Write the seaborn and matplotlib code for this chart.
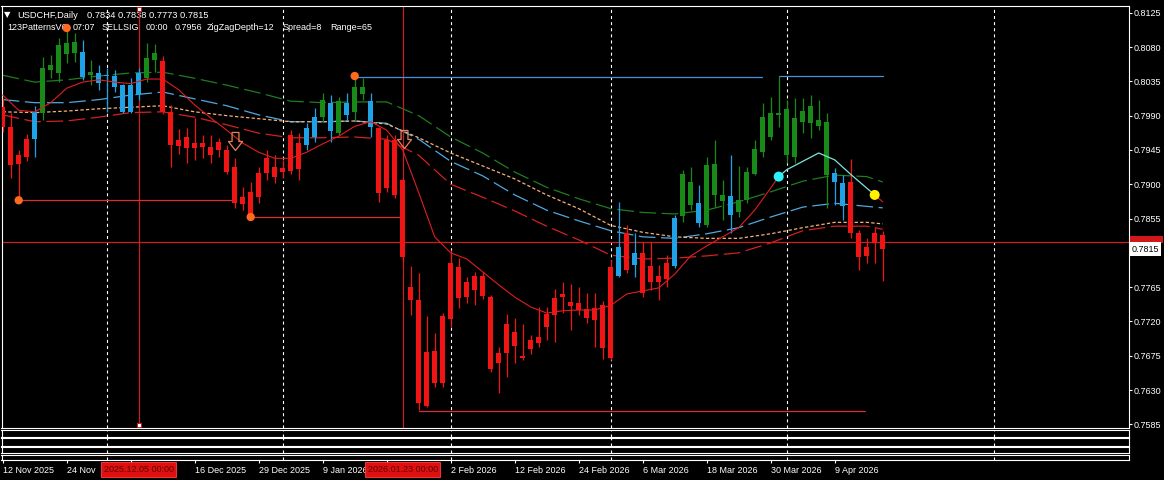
import matplotlib
matplotlib.use("Agg")
import matplotlib.pyplot as plt
import matplotlib.transforms as mtransforms
from matplotlib.patches import Rectangle
import seaborn as sns
import numpy as np
from matplotlib.path import Path

sns.set_theme(style="dark", rc={"axes.facecolor": "black", "figure.facecolor": "black"})
plt.rcParams['font.family'] = ['Liberation Sans', 'DejaVu Sans']
plt.rcParams['lines.scale_dashes'] = False

# ---------------- data ----------------
opens = [0.8001, 0.7975, 0.7938, 0.7959, 0.7959, 0.7994, 0.8050, 0.8046, 0.8071, 0.8072,
         0.8074, 0.8043, 0.8046, 0.8042, 0.8042, 0.8030, 0.7995, 0.8017, 0.8039, 0.8063,
         0.8062, 0.7995, 0.7958, 0.7962, 0.7954, 0.7954, 0.7949, 0.7955, 0.7945, 0.7923,
         0.7883, 0.7890, 0.7915, 0.7934, 0.7923, 0.7921, 0.7965, 0.7954, 0.7951, 0.7962,
         0.7988, 0.8007, 0.7967, 0.8007, 0.7995, 0.8018, 0.8009, 0.7974, 0.7958, 0.7958,
         0.7906, 0.7765, 0.7748, 0.7680, 0.7681, 0.7727, 0.7797, 0.7791, 0.7772, 0.7780,
         0.7780, 0.7752, 0.7679, 0.7717, 0.7706, 0.7675, 0.7696, 0.7700, 0.7730, 0.7751,
         0.7756, 0.7746, 0.7744, 0.7736, 0.7738, 0.7742, 0.7672, 0.7780, 0.7836, 0.7794,
         0.7810, 0.7793, 0.7780, 0.7797, 0.7793, 0.7858, 0.7873, 0.7875, 0.7846, 0.7886,
         0.7878, 0.7860, 0.7863, 0.7879, 0.7913, 0.7942, 0.7962, 0.7991, 0.7999, 0.7936,
         0.7982, 0.7980, 0.7976, 0.7982, 0.7903, 0.7902, 0.7903, 0.7836, 0.7818, 0.7836,
         0.7834]
highs = [0.8013, 0.7994, 0.7945, 0.7966, 0.8003, 0.8067, 0.8070, 0.8092, 0.8105, 0.8098,
         0.8089, 0.8063, 0.8056, 0.8053, 0.8050, 0.8032, 0.8039, 0.8053, 0.8085, 0.8084,
         0.8068, 0.8004, 0.7972, 0.7974, 0.7987, 0.7965, 0.7965, 0.7961, 0.7951, 0.7934,
         0.7896, 0.7903, 0.7923, 0.7945, 0.7938, 0.7932, 0.7971, 0.7967, 0.7980, 0.8000,
         0.8020, 0.8017, 0.8014, 0.8020, 0.8042, 0.8039, 0.8020, 0.7975, 0.7965, 0.7965,
         0.7908, 0.7793, 0.7784, 0.7727, 0.7705, 0.7731, 0.7814, 0.7803, 0.7778, 0.7785,
         0.7785, 0.7755, 0.7687, 0.7730, 0.7725, 0.7717, 0.7702, 0.7739, 0.7739, 0.7763,
         0.7772, 0.7769, 0.7765, 0.7757, 0.7757, 0.7747, 0.7801, 0.7877, 0.7846, 0.7836,
         0.7824, 0.7824, 0.7794, 0.7807, 0.7860, 0.7919, 0.7923, 0.7899, 0.7936, 0.7958,
         0.7906, 0.7938, 0.7924, 0.7923, 0.7958, 0.8007, 0.8014, 0.8042, 0.8011, 0.8013,
         0.8013, 0.8017, 0.8011, 0.7994, 0.7921, 0.7912, 0.7933, 0.7840, 0.7829, 0.7844,
         0.7838]
lows = [0.7969, 0.7908, 0.7879, 0.7930, 0.7936, 0.7984, 0.8039, 0.8034, 0.8059, 0.8060,
        0.8037, 0.8030, 0.8024, 0.7995, 0.8021, 0.7994, 0.7994, 0.8011, 0.8034, 0.8047,
        0.7992, 0.7923, 0.7940, 0.7928, 0.7932, 0.7934, 0.7928, 0.7936, 0.7913, 0.7869,
        0.7866, 0.7857, 0.7875, 0.7906, 0.7902, 0.7908, 0.7913, 0.7906, 0.7945, 0.7955,
        0.7982, 0.7955, 0.7965, 0.7984, 0.7984, 0.8011, 0.7962, 0.7877, 0.7890, 0.7882,
        0.7798, 0.7728, 0.7604, 0.7608, 0.7634, 0.7634, 0.7713, 0.7738, 0.7744, 0.7742,
        0.7749, 0.7654, 0.7626, 0.7647, 0.7665, 0.7669, 0.7677, 0.7687, 0.7696, 0.7693,
        0.7731, 0.7709, 0.7728, 0.7718, 0.7687, 0.7671, 0.7669, 0.7778, 0.7784, 0.7778,
        0.7752, 0.7761, 0.7748, 0.7765, 0.7790, 0.7850, 0.7866, 0.7844, 0.7844, 0.7870,
        0.7853, 0.7836, 0.7857, 0.7875, 0.7912, 0.7936, 0.7958, 0.7975, 0.7928, 0.7928,
        0.7967, 0.7961, 0.7971, 0.7869, 0.7873, 0.7853, 0.7829, 0.7788, 0.7797, 0.7797,
        0.7773]
closes = [0.7975, 0.7925, 0.7927, 0.7936, 0.7995, 0.8053, 0.8056, 0.8083, 0.8085, 0.8087,
          0.8041, 0.8047, 0.8033, 0.8043, 0.8027, 0.7995, 0.8030, 0.8046, 0.8066, 0.8072,
          0.7995, 0.7951, 0.7950, 0.7947, 0.7947, 0.7949, 0.7938, 0.7945, 0.7916, 0.7875,
          0.7874, 0.7861, 0.7883, 0.7915, 0.7910, 0.7916, 0.7917, 0.7920, 0.7974, 0.7988,
          0.8011, 0.7970, 0.8009, 0.7991, 0.8028, 0.8028, 0.7975, 0.7889, 0.7895, 0.7886,
          0.7804, 0.7748, 0.7613, 0.7609, 0.7639, 0.7639, 0.7723, 0.7751, 0.7752, 0.7761,
          0.7753, 0.7658, 0.7665, 0.7679, 0.7688, 0.7672, 0.7684, 0.7692, 0.7713, 0.7728,
          0.7752, 0.7740, 0.7735, 0.7724, 0.7722, 0.7685, 0.7791, 0.7818, 0.7788, 0.7810,
          0.7757, 0.7772, 0.7772, 0.7776, 0.7856, 0.7913, 0.7903, 0.7849, 0.7925, 0.7927,
          0.7886, 0.7885, 0.7879, 0.7916, 0.7946, 0.7988, 0.7994, 0.7994, 0.7938, 0.7987,
          0.7996, 0.8003, 0.7984, 0.7912, 0.7915, 0.7872, 0.7836, 0.7804, 0.7806, 0.7823,
          0.7815]
# candle colouring by the chart's trend indicator: r = down, g = up, b = up-pullback
candle_state = ("rrrrbgggggbgbbbbbbgg" + "r" * 18 + "bbgbgbggb" + "r" * 30 +
                "brbrrrrbggbgggb" + "g" * 12 + "bbrrrrr")

ma_idx = [0, 4, 8, 12, 16, 20, 24, 28, 32, 36, 40, 44, 48, 52, 56, 60, 64, 68, 72, 76,
          80, 84, 88, 92, 96, 100, 104, 108, 110]
ma_green = [0.8043, 0.8034, 0.8037, 0.8042, 0.8046, 0.8047, 0.8039, 0.8030, 0.8020, 0.8009,
            0.8007, 0.8008, 0.8008, 0.7990, 0.7962, 0.7941, 0.7916, 0.7896, 0.7881, 0.7868,
            0.7863, 0.7861, 0.7866, 0.7877, 0.7890, 0.7904, 0.7912, 0.7910, 0.7903]
ma_blue = [0.8011, 0.8007, 0.8007, 0.8011, 0.8017, 0.8021, 0.8012, 0.8003, 0.7991, 0.7982,
           0.7982, 0.7983, 0.7980, 0.7959, 0.7930, 0.7911, 0.7886, 0.7866, 0.7852, 0.7839,
           0.7831, 0.7829, 0.7835, 0.7843, 0.7857, 0.7870, 0.7875, 0.7871, 0.7869]
ma_orange = [0.7995, 0.7994, 0.7996, 0.7999, 0.8001, 0.8003, 0.7995, 0.7990, 0.7986, 0.7982,
             0.7982, 0.7983, 0.7979, 0.7961, 0.7941, 0.7924, 0.7907, 0.7886, 0.7868, 0.7846,
             0.7837, 0.7831, 0.7829, 0.7829, 0.7835, 0.7843, 0.7850, 0.7850, 0.7848]
ma_red = [0.7991, 0.7982, 0.7983, 0.7988, 0.7994, 0.7995, 0.7988, 0.7978, 0.7967, 0.7961,
          0.7961, 0.7962, 0.7959, 0.7938, 0.7900, 0.7883, 0.7865, 0.7845, 0.7827, 0.7807,
          0.7802, 0.7803, 0.7806, 0.7810, 0.7823, 0.7839, 0.7845, 0.7845, 0.7841]

fast_idx = [0, 2, 4, 6, 8, 10, 12, 14, 16, 18, 20, 22, 24, 26, 28, 30, 32, 34, 36, 38,
            40, 42, 44, 46, 48, 50, 52, 54, 56, 58, 60, 62, 64, 66, 68, 70, 72, 74, 76, 78,
            80, 82, 84, 86, 88, 90, 92, 94, 96, 97, 98, 100, 102, 104, 106, 108, 109, 110]
fast_ma = [0.8017, 0.7997, 0.7995, 0.8007, 0.8026, 0.8034, 0.8037, 0.8034, 0.8032, 0.8038,
           0.8038, 0.8024, 0.8004, 0.7987, 0.7971, 0.7954, 0.7942, 0.7934, 0.7934, 0.7942,
           0.7953, 0.7963, 0.7976, 0.7982, 0.7971, 0.7945, 0.7889, 0.7831, 0.7810, 0.7802,
           0.7785, 0.7768, 0.7752, 0.7739, 0.7731, 0.7734, 0.7735, 0.7735, 0.7741, 0.7756,
           0.7760, 0.7764, 0.7782, 0.7806, 0.7819, 0.7831, 0.7843, 0.7866, 0.7895, 0.7910,
           0.7919, 0.7930, 0.7941, 0.7932, 0.7913, 0.7895, 0.7886, 0.7877]
signal_up_bar = 97      # cyan dot
signal_down_bar = 109   # yellow dot

zz_bars = [2, 8, 31, 44]
zz_prices = [0.7879, 0.8105, 0.7857, 0.8042]
support_lines = [(2, 28.8, 0.7879), (31, 50, 0.7857), (52, 107.8, 0.7603)]
resist_lines = [(44, 94.9, 0.8041), (97, 110, 0.8042)]
arrow_bars = [29.0, 50.15]
arrow_prices = [0.7957, 0.7959]
hline_price = 0.7824
last_price = 0.7815
vline_bars = [17, 50]
vline_labels = ["2025.12.05 00:00", "2026.01.23 00:00"]
month_sep = [13, 35, 56, 76, 98, 123.9]

xtick_bars = [0, 8, 16, 24, 32, 40, 48, 56, 64, 72, 80, 88, 96, 104]
xtick_labels = ["12 Nov 2025", "24 Nov", "", "16 Dec 2025", "29 Dec 2025", "9 Jan 2026",
                "", "2 Feb 2026", "12 Feb 2026", "24 Feb 2026", "6 Mar 2026", "18 Mar 2026",
                "30 Mar 2026", "9 Apr 2026"]
ytick_vals = [0.8125, 0.8080, 0.8035, 0.7990, 0.7945, 0.7900, 0.7855, 0.7810, 0.7765,
              0.7720, 0.7675, 0.7630, 0.7585]
ytick_hidden = [0.7810]   # covered by the price labels on the scale

# ---------------- layout ----------------
W, H, DPI = 1164, 480, 100
fig = plt.figure(figsize=(W / DPI, H / DPI), dpi=DPI, facecolor="black")


def rect(x0, y0, x1, y1):
    return [x0 / W, 1 - y1 / H, (x1 - x0) / W, (y1 - y0) / H]


XLIM = (-0.15, 140.79)
YLIM = (0.75802, 0.81345)

ax = fig.add_axes(rect(1.5, 5.5, 1129, 428))
ax.set_facecolor("black")
ax.set_xlim(*XLIM)
ax.set_ylim(*YLIM)
ax.grid(False)
for s in ax.spines.values():
    s.set_color("white")
    s.set_linewidth(0.8)

SEP_STYLE = dict(color="white", lw=0.8, ls=(0, (2.2, 2.2)))
for b in month_sep:
    ax.axvline(b, zorder=1.5, **SEP_STYLE)

C_RED, C_GREEN, C_BLUE = "#F01414", "#178A17", "#1FA3E6"
palette = {"r": C_RED, "g": C_GREEN, "b": C_BLUE}

# moving-average envelope lines (seaborn)
sns.lineplot(x=ma_idx, y=ma_green, ax=ax, color="#1F7D1F", lw=0.9, ls=(0, (12, 4)), zorder=2)
sns.lineplot(x=ma_idx, y=ma_blue, ax=ax, color="#4FA8E0", lw=0.9, ls=(0, (12, 4)), zorder=2)
sns.lineplot(x=ma_idx, y=ma_orange, ax=ax, color="#F5B27A", lw=0.9, ls=(0, (2.4, 1.6)), zorder=2)
sns.lineplot(x=ma_idx, y=ma_red, ax=ax, color="#D42020", lw=0.9, ls=(0, (12, 4)), zorder=2)

# horizontal / vertical objects
ax.axhline(hline_price, color="#C81E1E", lw=0.9, zorder=2.2)
for b in vline_bars:
    ax.axvline(b, color="#C81E1E", lw=0.9, zorder=2.2)
for x0, x1, p in support_lines:
    ax.plot([x0, x1], [p, p], color="#D83030", lw=0.9, zorder=2.3)
for x0, x1, p in resist_lines:
    ax.plot([x0, x1], [p, p], color="#4A8EDC", lw=0.9, zorder=2.3)

# candles
o = np.array(opens); c = np.array(closes); hi = np.array(highs); lo = np.array(lows)
idx = np.arange(len(o))
cols = [palette[k] for k in candle_state]
ax.vlines(idx, lo, hi, colors=cols, lw=0.9, zorder=4)
body_lo = np.minimum(o, c)
body_h = np.maximum(np.abs(c - o), 0.00013)
ax.bar(idx, body_h, bottom=body_lo, width=0.65, color=cols, linewidth=0, zorder=5)

# fast MA: red, cyan between signals
fi = np.array(fast_idx); fv = np.array(fast_ma)
m1 = fi <= signal_up_bar
m2 = (fi >= signal_up_bar) & (fi <= signal_down_bar)
m3 = fi >= signal_down_bar
sns.lineplot(x=fi[m1], y=fv[m1], ax=ax, color="#E01E1E", lw=0.8, zorder=6)
sns.lineplot(x=fi[m2], y=fv[m2], ax=ax, color="#7DE6DC", lw=0.9, zorder=6)
sns.lineplot(x=fi[m3], y=fv[m3], ax=ax, color="#E01E1E", lw=0.8, zorder=6)
sns.scatterplot(x=[signal_up_bar], y=[fv[fi == signal_up_bar][0]], ax=ax, s=52,
                color="#2EF0F5", edgecolor="none", zorder=7)
sns.scatterplot(x=[signal_down_bar], y=[fv[fi == signal_down_bar][0]], ax=ax, s=52,
                color="#FFF200", edgecolor="none", zorder=7)
sns.scatterplot(x=zz_bars, y=zz_prices, ax=ax, s=36, color="#FF6A1F", edgecolor="none", zorder=7)

# hollow down arrows
arrow_path = Path([(-0.19, 0.5), (0.19, 0.5), (0.19, 0.0), (0.39, 0.0), (0.0, -0.5),
                   (-0.39, 0.0), (-0.19, 0.0), (-0.19, 0.5)],
                  [Path.MOVETO] + [Path.LINETO] * 6 + [Path.CLOSEPOLY])
ax.plot(arrow_bars, arrow_prices, ls="none", marker=arrow_path, ms=13, mfc="none",
        mec="#E4825C", mew=0.9, zorder=7)

# handles on the selected vertical line
ax.plot([vline_bars[0]] * 2, [0.006, 0.991], transform=ax.get_xaxis_transform(), ls="none",
        marker="s", ms=3.2, mfc="white", mec="#C81E1E", mew=0.7, zorder=8, clip_on=False)

ax.set_xlabel(""); ax.set_ylabel("")
ax.set_xticks([])
ax.yaxis.tick_right()
ax.set_yticks(ytick_vals)
ax.set_yticklabels(["" if v in ytick_hidden else f"{v:.4f}" for v in ytick_vals])
ax.tick_params(axis="y", colors="white", labelcolor="white", length=2.4, width=0.8,
               pad=1.2, labelsize=6.5, right=True, left=False)

# price labels on the right scale: horizontal-line tag (mostly hidden) + last price
blend = mtransforms.blended_transform_factory(ax.transAxes, ax.transData)
ax.add_patch(Rectangle((1.0008, hline_price - 0.00008), 0.0295, 0.00088, transform=blend,
                       fc="#D01818", ec="none", clip_on=False, zorder=19))
ax.annotate(f"{last_price:.4f}", xy=(1, last_price), xycoords=("axes fraction", "data"),
            xytext=(1.6, 0), textcoords="offset points", ha="left", va="center", fontsize=6.5,
            color="black", annotation_clip=False, zorder=21,
            bbox=dict(boxstyle="square,pad=0.25", fc="white", ec="none"))

# header texts
ax.text(7.5 / W, 1 - 15 / H, "\u25bc", transform=fig.transFigure, color="white",
        fontsize=6, ha="center", va="center", family="DejaVu Sans", zorder=1)
ax.text(17 / W, 1 - 15 / H, "USDCHF,Daily", transform=fig.transFigure, color="white",
        fontsize=6.7, ha="left", va="center", zorder=1)
ax.text(87 / W, 1 - 15 / H, "0.7834 0.7838 0.7773 0.7815", transform=fig.transFigure,
        color="white", fontsize=6.7, ha="left", va="center", zorder=1)
for word, xpx in [("123PatternsV6", 7), ("07:07", 73), ("SELLSIG", 102), ("00:00", 146),
                  ("0.7956", 175), ("ZigZagDepth=12", 207), ("Spread=8", 283), ("Range=65", 330)]:
    ax.text(xpx / W, 1 - 28 / H, word, transform=fig.transFigure, color="white",
            fontsize=6.5, ha="left", va="center", zorder=1)

# empty indicator sub-windows
panes = [(430, 436.7), (438.3, 445.7), (447, 453.3), (454.7, 460.3)]
pax = None
for (t, b) in panes:
    pax = fig.add_axes(rect(1.5, t, 1129, b))
    pax.set_facecolor("black")
    pax.set_xlim(*XLIM)
    pax.set_ylim(0, 1)
    pax.grid(False)
    pax.set_yticks([])
    pax.set_xticks([])
    for s in pax.spines.values():
        s.set_color("white")
        s.set_linewidth(0.8)
    for bb in month_sep:
        pax.axvline(bb, **SEP_STYLE)

pax.set_xticks(xtick_bars)
pax.set_xticklabels(xtick_labels, ha="left")
pax.tick_params(axis="x", colors="white", labelcolor="white", length=2.4, width=0.8,
                pad=1.5, labelsize=6.5, bottom=True)

for b, lab in zip(vline_bars, vline_labels):
    pax.annotate(lab, xy=(b, 0), xycoords=("data", "axes fraction"), xytext=(0, -6.7),
                 textcoords="offset points", ha="center", va="center", fontsize=6.5,
                 color="#5A0000", annotation_clip=False, zorder=20,
                 bbox=dict(boxstyle="square,pad=0.3", fc="#E01010", ec="#FF4040", lw=0.6))

fig.savefig("out.png", dpi=DPI, facecolor="black")
